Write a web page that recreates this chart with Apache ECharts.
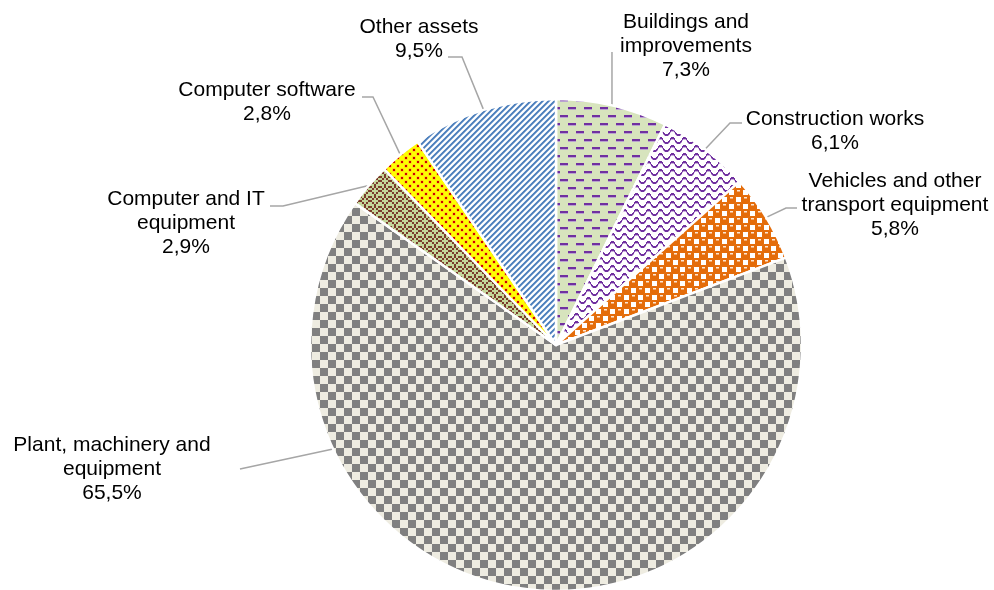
<!DOCTYPE html>
<html>
<head>
<meta charset="utf-8">
<script src="https://cdn.jsdelivr.net/npm/echarts@6/dist/echarts.min.js"></script>
<style>
html,body{margin:0;padding:0;background:#fff;}
#chart{width:994px;height:590px;}
</style>
</head>
<body>
<div id="chart"></div>
<script>
// ---- data ----
const categories = [
  'Buildings and\nimprovements',
  'Construction works',
  'Vehicles and other\ntransport equipment',
  'Plant, machinery and\nequipment',
  'Computer and IT\nequipment',
  'Computer software',
  'Other assets'
];
const shares = [7.3, 6.1, 5.8, 65.5, 2.9, 2.8, 9.5];

// ---- layout (label centres and leader-line starts, px) ----
const CX = 556, CY = 345, R = 246;
const labelPlace = [
  {x: 686, y: 46,  sx: null, sy: 52,  stub: 0},
  {x: 835, y: 131, sx: 742, sy: 123, stub: -12},
  {x: 895, y: 205, sx: 797, sy: 208, stub: -11},
  {x: 112, y: 469, sx: 240, sy: 469, stub: 0, angle: 245},
  {x: 186, y: 223, sx: 270, sy: 206, stub: 13},
  {x: 267, y: 102, sx: 362, sy: 97,  stub: 11},
  {x: 419, y: 39,  sx: 448, sy: 57,  stub: 14}
];

// ---- patterns ----
function tile(w, h, draw) {
  const c = document.createElement('canvas');
  c.width = w; c.height = h;
  const g = c.getContext('2d');
  draw(g, w, h);
  return {image: c, repeat: 'repeat'};
}
function rrect(g, x, y, w, h, r) {
  g.beginPath();
  g.moveTo(x + r, y); g.lineTo(x + w - r, y); g.quadraticCurveTo(x + w, y, x + w, y + r);
  g.lineTo(x + w, y + h - r); g.quadraticCurveTo(x + w, y + h, x + w - r, y + h);
  g.lineTo(x + r, y + h); g.quadraticCurveTo(x, y + h, x, y + h - r);
  g.lineTo(x, y + r); g.quadraticCurveTo(x, y, x + r, y);
  g.fill();
}
const patterns = [
  // Buildings: light green with purple dashes
  tile(16, 16, function (g) {
    g.fillStyle = '#d7e4bd'; g.fillRect(0, 0, 16, 16);
    g.fillStyle = '#b9a3cf'; g.fillRect(0, 5, 8, 1); g.fillRect(8, 13, 8, 1);
    g.fillStyle = '#7030a0'; g.fillRect(0, 3, 8, 2); g.fillRect(8, 11, 8, 2);
  }),
  // Construction: white with purple wave
  tile(12, 8, function (g) {
    g.fillStyle = '#ffffff'; g.fillRect(0, 0, 12, 8);
    for (let x = 0; x < 12; x++) {
      const y = Math.round(3.5 - 2.5 * Math.cos(2 * Math.PI * x / 12));
      g.fillStyle = '#c7acd9'; g.fillRect(x, y + 2, 1, 1);
      g.fillStyle = '#7030a0'; g.fillRect(x, y, 1, 2);
    }
  }),
  // Vehicles: orange spheres on white checker
  tile(14, 14, function (g) {
    g.fillStyle = '#ffffff'; g.fillRect(0, 0, 14, 14);
    g.fillStyle = '#e46c0a';
    [[0, 0], [7, 7], [14, 14], [14, 0], [0, 14], [-7, 7], [7, -7], [21, 7], [7, 21]].forEach(function (p) {
      rrect(g, p[0] - 1, p[1] - 1, 9, 9, 2.5);
    });
    g.fillStyle = '#fde6d2';
    g.fillRect(2, 1, 3, 1.5); g.fillRect(9, 8, 3, 1.5);
  }),
  // Plant: grey / beige checkerboard
  tile(16, 16, function (g) {
    g.fillStyle = '#eeece1'; g.fillRect(0, 0, 16, 16);
    g.fillStyle = '#808080'; g.fillRect(0, 0, 8, 8); g.fillRect(8, 8, 8, 8);
  }),
  // Computer & IT: olive green with brown stepped zigzag
  tile(10, 10, function (g) {
    g.fillStyle = '#c4d79b'; g.fillRect(0, 0, 10, 10);
    g.fillStyle = '#7b3b2b';
    const cells = [[0,0],[1,1],[2,2],[3,1],[4,0],[0,3],[1,4],[3,4],[4,3],[2,3]];
    cells.forEach(function (c) { g.fillRect(c[0] * 2, c[1] * 2, 2, 2); });
  }),
  // Software: yellow with red dots
  tile(8, 8, function (g) {
    g.fillStyle = '#ffff00'; g.fillRect(0, 0, 8, 8);
    g.fillStyle = '#f3b020'; g.fillRect(0.5, 0.5, 3, 3); g.fillRect(4.5, 4.5, 3, 3);
    g.fillStyle = '#d00000'; g.fillRect(1, 1, 2, 2); g.fillRect(5, 5, 2, 2);
  }),
  // Other: blue / white upward diagonal stripes
  tile(6, 6, function (g) {
    g.fillStyle = '#ffffff'; g.fillRect(0, 0, 6, 6);
    for (let y = 0; y < 6; y++) for (let x = 0; x < 6; x++) {
      const k = (x + y) % 6;
      if (k < 2) { g.fillStyle = '#4f81bd'; g.fillRect(x, y, 1, 1); }
      else if (k === 2) { g.fillStyle = '#8fb0d8'; g.fillRect(x, y, 1, 1); }
      else if (k === 5) { g.fillStyle = '#dce6f2'; g.fillRect(x, y, 1, 1); }
    }
  })
];

const total = shares.reduce(function (a, b) { return a + b; }, 0);
const cum = [];
shares.reduce(function (acc, v, i) { cum[i] = acc; return acc + v; }, 0);

function anchorFor(i) {
  let deg = labelPlace[i].angle != null ? labelPlace[i].angle : (cum[i] + shares[i] / 2) / total * 360;
  const a = deg * Math.PI / 180;
  return [CX + R * Math.sin(a), CY - R * Math.cos(a)];
}

const chart = echarts.init(document.getElementById('chart'), null, {renderer: 'canvas'});
chart.setOption({
  backgroundColor: '#ffffff',
  animation: false,
  series: [{
    type: 'pie',
    center: [CX, CY],
    radius: [0, R],
    startAngle: 90,
    clockwise: true,
    avoidLabelOverlap: false,
    data: categories.map(function (c, i) {
      return {name: c, value: shares[i], itemStyle: {color: patterns[i]}};
    }),
    itemStyle: {borderColor: '#ffffff', borderWidth: 2.5},
    label: {
      show: true,
      position: 'outside',
      fontFamily: 'Liberation Sans, Arial, sans-serif',
      fontSize: 21,
      lineHeight: 24,
      color: '#000000',
      align: 'center',
      formatter: function (p) { return p.name + '\n' + String(p.value).replace('.', ',') + '%'; }
    },
    labelLine: {show: true, lineStyle: {color: '#a6a6a6', width: 1.5}},
    emphasis: {disabled: true},
    labelLayout: function (params) {
      const i = params.dataIndex;
      const L = labelPlace[i];
      const an = anchorFor(i);
      const sx = L.sx == null ? an[0] : L.sx;
      const start = [sx, L.sy];
      const elbow = [sx + L.stub, L.sy];
      return {
        x: L.x, y: L.y, align: 'center', verticalAlign: 'middle',
        labelLinePoints: [an, elbow, start]
      };
    }
  }]
});
</script>
</body>
</html>
